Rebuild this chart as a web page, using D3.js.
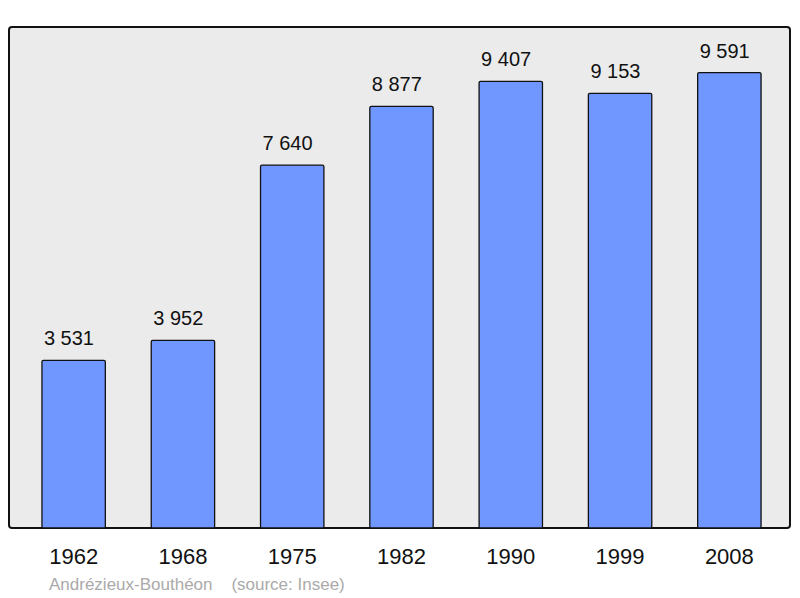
<!DOCTYPE html>
<html><head><meta charset="utf-8">
<script src="https://cdn.jsdelivr.net/npm/d3@7"></script>
<style>body{margin:0;background:#fff}svg{display:block;font-family:"Liberation Sans",Arial,sans-serif}</style>
</head><body>
<svg id="c" width="800" height="598"></svg>
<script>
const years = ["1962","1968","1975","1982","1990","1999","2008"];
const population = [3531,3952,7640,8877,9407,9153,9591];
const valueLabels = ["3 531","3 952","7 640","8 877","9 407","9 153","9 591"];
const caption = "Andrézieux-Bouthéon    (source: Insee)";

const svg = d3.select("#c");
const frame = {x0:9, y0:27, x1:790, y1:528};

svg.append("rect").attr("x",frame.x0).attr("y",frame.y0)
  .attr("width",frame.x1-frame.x0).attr("height",frame.y1-frame.y0)
  .attr("rx",3).attr("fill","#ebebeb").attr("stroke","#111").attr("stroke-width",2);

const x = d3.scaleBand().domain(years).range([19,784]).paddingInner(0.42).paddingOuter(0.21);
const y = d3.scaleLinear().domain([0, d3.max(population)*1.1]).range([frame.y1, frame.y0]);

const g = svg.append("g");
g.selectAll("rect.bar").data(population).join("rect").attr("class","bar")
  .attr("x",(d,i)=>x(years[i])).attr("width",x.bandwidth())
  .attr("y",d=>y(d)).attr("height",d=>y(0)-y(d))
  .attr("rx",1.5)
  .attr("fill","#7096ff").attr("stroke","#111").attr("stroke-width",1.3);

g.selectAll("text.val").data(population).join("text").attr("class","val")
  .attr("x",(d,i)=>x(years[i])+2).attr("y",d=>y(d)-15)
  .attr("text-anchor","start").attr("font-size",20).attr("fill","#111")
  .text((d,i)=>valueLabels[i]);

const ax = d3.axisBottom(x).tickSize(0).tickPadding(0);
const axg = svg.append("g").attr("transform",`translate(0,${frame.y1})`).call(ax);
axg.select(".domain").remove();
axg.selectAll("text").attr("font-size",22).attr("fill","#111").attr("dy",null).attr("y",36)
  .attr("font-family","Liberation Sans, Arial, sans-serif");

svg.append("text").attr("x",49).attr("y",590).attr("font-size",17).attr("fill","#aaa")
  .attr("xml:space","preserve").style("white-space","pre").text(caption);
</script>
</body></html>
